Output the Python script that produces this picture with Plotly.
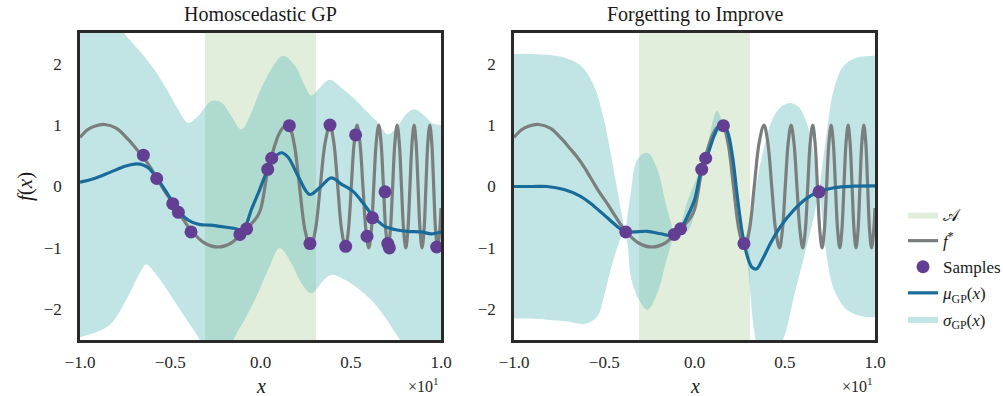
import plotly.graph_objects as go

# ---------------- data (x in units of 10^1) ----------------
region_x = [-0.307, 0.307, 0.307, -0.307, -0.307]
region_y = [-3.0, -3.0, 3.0, 3.0, -3.0]

fstar_x = [-1.0, -0.96, -0.92, -0.863, -0.80, -0.734, -0.69, -0.65, -0.61, -0.573, -0.53, -0.485,
           -0.44, -0.383, -0.31, -0.235, -0.162, -0.112, -0.06, -0.02, 0.0, 0.04, 0.07, 0.10, 0.128,
           0.155, 0.1855, 0.216, 0.2465, 0.277, 0.304, 0.331, 0.358, 0.385, 0.4065, 0.428, 0.4495,
           0.471, 0.487, 0.503, 0.519, 0.535, 0.551, 0.5675, 0.584, 0.600, 0.614, 0.6275, 0.641,
           0.655, 0.668, 0.681, 0.694, 0.707, 0.7195, 0.732, 0.7445, 0.757, 0.769, 0.781, 0.793,
           0.805, 0.8165, 0.828, 0.8395, 0.851, 0.862, 0.873, 0.884, 0.895, 0.906, 0.9165, 0.927,
           0.938, 0.949, 0.9595, 0.970, 0.981, 0.992, 1.0]
fstar_y = [0.80, 0.92, 0.98, 1.01, 0.95, 0.77, 0.62, 0.48, 0.31, 0.13, -0.08, -0.27,
           -0.48, -0.72, -0.92, -0.985, -0.92, -0.79, -0.64, -0.50, -0.38, 0.25, 0.58, 0.84, 0.97,
           1.0, 0.71, 0.0, -0.71, -1.0, -0.71, 0.0, 0.71, 1.0, 0.71, 0.0, -0.71,
           -1.0, -0.71, 0.0, 0.71, 1.0, 0.71, 0.0, -0.71, -1.0, -0.71, 0.0, 0.71,
           1.0, 0.71, 0.0, -0.71, -1.0, -0.71, 0.0, 0.71, 1.0, 0.71, 0.0, -0.71,
           -1.0, -0.71, 0.0, 0.71, 1.0, 0.71, 0.0, -0.71, -1.0, -0.71, 0.0, 0.71,
           1.0, 0.71, 0.0, -0.71, -1.0, -0.75, -0.35]

# Homoscedastic GP (left)
homo_sx = [-0.649, -0.575, -0.486, -0.455, -0.385, -0.114, -0.077, 0.04, 0.062, 0.16, 0.274,
           0.385, 0.472, 0.527, 0.59, 0.62, 0.69, 0.705, 0.714, 0.976]
homo_sy = [0.51, 0.13, -0.28, -0.42, -0.74, -0.78, -0.69, 0.28, 0.46, 0.99, -0.93,
           1.0, -0.975, 0.84, -0.81, -0.51, -0.087, -0.93, -1.0, -0.985]

homo_mu_x = [-1.0, -0.92, -0.834, -0.75, -0.686, -0.65, -0.62, -0.575, -0.53, -0.483, -0.45, -0.418,
             -0.38, -0.335, -0.28, -0.224, -0.15, -0.106, -0.08, -0.051, -0.014, 0.032, 0.069, 0.115,
             0.152, 0.208, 0.272, 0.328, 0.392, 0.448, 0.513, 0.568, 0.623, 0.688, 0.743, 0.817,
             0.891, 0.947, 1.0]
homo_mu_y = [0.07, 0.13, 0.23, 0.33, 0.37, 0.35, 0.30, 0.14, -0.05, -0.27, -0.40, -0.51,
             -0.58, -0.62, -0.63, -0.65, -0.68, -0.70, -0.62, -0.38, -0.12, 0.22, 0.44, 0.55,
             0.48, 0.17, -0.13, -0.02, 0.14, 0.04, -0.08, -0.27, -0.48, -0.65, -0.70, -0.73,
             -0.74, -0.77, -0.74]

homo_up_x = [-1.0, -0.85, -0.79, -0.752, -0.679, -0.605, -0.531, -0.457, -0.402, -0.346, -0.273,
             -0.217, -0.162, -0.106, -0.051, -0.014, 0.06, 0.125, 0.19, 0.245, 0.282, 0.319, 0.383,
             0.448, 0.522, 0.596, 0.651, 0.706, 0.762, 0.808, 0.854, 0.91, 0.947, 1.0]
homo_up_y = [3.0, 2.8, 2.62, 2.48, 2.24, 1.97, 1.64, 1.26, 1.04, 1.15, 1.39,
             1.37, 1.15, 0.93, 1.20, 1.48, 1.91, 2.13, 1.97, 1.64, 1.48, 1.58, 1.74,
             1.61, 1.42, 1.20, 1.04, 0.85, 0.99, 1.18, 1.26, 1.15, 1.04, 1.0]

homo_lo_x = [-1.0, -0.9, -0.827, -0.734, -0.66, -0.633, -0.568, -0.494, -0.42, -0.346, -0.3, -0.2,
             -0.143, -0.088, -0.032, 0.042, 0.106, 0.171, 0.226, 0.282, 0.337, 0.392, 0.467, 0.54,
             0.614, 0.688, 0.762, 0.85, 1.0]
homo_lo_y = [-2.45, -2.36, -2.23, -1.79, -1.36, -1.27, -1.47, -1.79, -2.12, -2.45, -2.7, -2.8,
             -2.45, -2.17, -1.85, -1.36, -1.0, -1.25, -1.57, -1.74, -1.57, -1.44, -1.52, -1.66,
             -1.85, -2.12, -2.45, -2.8, -3.0]

# Forgetting to Improve (right)
fti_sx = [-0.381, -0.112, -0.077, 0.04, 0.062, 0.16, 0.274, 0.69]
fti_sy = [-0.74, -0.78, -0.69, 0.28, 0.46, 0.99, -0.93, -0.087]

fti_mu_x = [-1.0, -0.9, -0.816, -0.723, -0.631, -0.557, -0.483, -0.428, -0.385, -0.335, -0.261,
            -0.187, -0.117, -0.077, -0.04, 0.0, 0.034, 0.071, 0.108, 0.135, 0.158, 0.182, 0.21,
            0.237, 0.265, 0.293, 0.32, 0.345, 0.376, 0.422, 0.477, 0.551, 0.625, 0.686, 0.773,
            0.884, 1.0]
fti_mu_y = [0.0, 0.0, 0.0, -0.05, -0.16, -0.32, -0.51, -0.65, -0.74, -0.74, -0.73,
            -0.77, -0.80, -0.69, -0.49, -0.22, 0.22, 0.50, 0.82, 0.98, 1.0, 0.90, 0.50,
            -0.16, -0.76, -1.14, -1.32, -1.34, -1.19, -0.92, -0.65, -0.38, -0.185, -0.09, -0.02,
            0.005, 0.01]

fti_up_x = [-1.0, -0.9, -0.8, -0.723, -0.631, -0.557, -0.502, -0.465, -0.428, -0.40, -0.385,
            -0.37, -0.353, -0.317, -0.261, -0.206, -0.16, -0.13, -0.117, -0.10, -0.077, -0.04,
            0.0, 0.04, 0.062, 0.09, 0.125, 0.16, 0.182, 0.21, 0.237, 0.265, 0.274, 0.29, 0.30,
            0.33, 0.366, 0.40, 0.44, 0.49, 0.533, 0.575, 0.607, 0.64, 0.662, 0.68, 0.69, 0.70,
            0.735, 0.773, 0.828, 0.902, 1.0]
fti_up_y = [2.16, 2.16, 2.14, 2.10, 1.97, 1.64, 1.09, 0.55, -0.05, -0.50, -0.72,
            -0.45, -0.10, 0.44, 0.55, 0.28, -0.27, -0.60, -0.76, -0.72, -0.62, -0.25,
            0.05, 0.33, 0.50, 0.92, 1.23, 1.02, 0.95, 0.58, -0.05, -0.68, -0.88, -0.75, -0.60,
            -0.20, 0.39, 0.80, 1.15, 1.32, 1.36, 1.30, 1.15, 0.85, 0.50, 0.15, -0.07, 0.15,
            0.93, 1.59, 1.97, 2.10, 2.13]

fti_lo_x = [-1.0, -0.9, -0.816, -0.70, -0.613, -0.539, -0.502, -0.465, -0.419, -0.40, -0.385,
            -0.37, -0.353, -0.307, -0.261, -0.206, -0.16, -0.13, -0.117, -0.10, -0.077, -0.04,
            0.0, 0.04, 0.062, 0.09, 0.125, 0.16, 0.182, 0.21, 0.237, 0.265, 0.274, 0.293, 0.33,
            0.35, 0.42, 0.496, 0.551, 0.607, 0.662, 0.69, 0.70, 0.735, 0.773, 0.846, 0.939, 1.0]
fti_lo_y = [-2.15, -2.15, -2.17, -2.20, -2.24, -2.12, -1.79, -1.36, -0.92, -0.80, -0.76,
            -0.95, -1.47, -1.85, -2.01, -1.74, -1.25, -0.95, -0.82, -0.80, -0.72, -0.72,
            -0.45, 0.22, 0.44, 0.70, 0.85, 0.97, 0.85, 0.42, -0.27, -0.84, -0.95, -1.25, -2.34,
            -2.6, -2.9, -2.45, -1.79, -1.14, -0.49, -0.11, -0.30, -1.19, -1.68, -2.01, -2.12, -2.13]

x_ticks = [-1.0, -0.5, 0.0, 0.5, 1.0]
x_ticktext = ["\u22121.0", "\u22120.5", "0.0", "0.5", "1.0"]
y_ticks = [-2, -1, 0, 1, 2]
y_ticktext = ["\u22122", "\u22121", "0", "1", "2"]
titles = ["Homoscedastic GP", "Forgetting to Improve"]

# ---------------- styles ----------------
FONT = "Liberation Serif, Times New Roman, serif"
GREEN = "#e1eedb"
TEAL = "rgba(100,188,191,0.40)"
GRAY = "#7b7e7e"
BLUE = "#196b99"
PURPLE = "#633f94"
W, H = 1003, 396

fig = go.Figure()

panels = [
    dict(xa="x", ya="y", sx=homo_sx, sy=homo_sy, mux=homo_mu_x, muy=homo_mu_y,
         upx=homo_up_x, upy=homo_up_y, lox=homo_lo_x, loy=homo_lo_y, leg=True),
    dict(xa="x2", ya="y2", sx=fti_sx, sy=fti_sy, mux=fti_mu_x, muy=fti_mu_y,
         upx=fti_up_x, upy=fti_up_y, lox=fti_lo_x, loy=fti_lo_y, leg=False),
]

for p in panels:
    leg = p["leg"]
    fig.add_trace(go.Scatter(x=region_x, y=region_y, xaxis=p["xa"], yaxis=p["ya"], mode="lines",
                             fill="toself", fillcolor=GREEN, line=dict(width=0, color=GREEN),
                             name="\U0001D49C", legendgroup="A", legendrank=1, showlegend=leg,
                             hoverinfo="skip"))
    fig.add_trace(go.Scatter(x=p["lox"], y=p["loy"], xaxis=p["xa"], yaxis=p["ya"], mode="lines",
                             line=dict(width=0, shape="spline", color=TEAL), showlegend=False,
                             legendgroup="sig", hoverinfo="skip"))
    fig.add_trace(go.Scatter(x=p["upx"], y=p["upy"], xaxis=p["xa"], yaxis=p["ya"], mode="lines",
                             fill="tonexty", fillcolor=TEAL, line=dict(width=0, shape="spline", color=TEAL),
                             name="<i>\u03c3</i><sub>GP</sub>(<i>x</i>)", legendgroup="sig",
                             legendrank=5, showlegend=leg, hoverinfo="skip"))
    fig.add_trace(go.Scatter(x=fstar_x, y=fstar_y, xaxis=p["xa"], yaxis=p["ya"], mode="lines",
                             line=dict(width=3.2, shape="spline", color=GRAY),
                             name="<i>f</i><sup>*</sup>", legendgroup="f", legendrank=2,
                             showlegend=leg))
    fig.add_trace(go.Scatter(x=p["mux"], y=p["muy"], xaxis=p["xa"], yaxis=p["ya"], mode="lines",
                             line=dict(width=3.2, shape="spline", color=BLUE),
                             name="<i>\u03bc</i><sub>GP</sub>(<i>x</i>)", legendgroup="mu",
                             legendrank=4, showlegend=leg))
    fig.add_trace(go.Scatter(x=p["sx"], y=p["sy"], xaxis=p["xa"], yaxis=p["ya"], mode="markers",
                             marker=dict(size=13, color=PURPLE), cliponaxis=False,
                             name="Samples", legendgroup="s", legendrank=3, showlegend=leg))

xdoms = [[80 / W, 441 / W], [514 / W, 875 / W]]
ydom = [1 - 340 / H, 1 - 33 / H]
axcommon = dict(showgrid=False, zeroline=False, showline=True, mirror=True, linecolor="#2a2a2a",
                linewidth=2.5, ticks="", tickfont=dict(family=FONT, size=17, color="#262626"),
                automargin=False)
fig.update_layout(
    xaxis=dict(domain=xdoms[0], range=[-1, 1], tickvals=x_ticks, ticktext=x_ticktext, anchor="y",
               ticklabelstandoff=5, **axcommon),
    yaxis=dict(domain=ydom, range=[-2.5, 2.5], tickvals=y_ticks, ticktext=y_ticktext, anchor="x",
               ticklabelstandoff=12, **axcommon),
    xaxis2=dict(domain=xdoms[1], range=[-1, 1], tickvals=x_ticks, ticktext=x_ticktext, anchor="y2",
                ticklabelstandoff=5, **axcommon),
    yaxis2=dict(domain=ydom, range=[-2.5, 2.5], tickvals=y_ticks, ticktext=y_ticktext, anchor="x2",
                ticklabelstandoff=12, **axcommon),
)

ann = []
for i, dom in enumerate(xdoms):
    cx = (dom[0] + dom[1]) / 2
    ann.append(dict(x=cx, y=1 - 14 / H, xref="paper", yref="paper", text=titles[i], showarrow=False,
                    font=dict(family=FONT, size=20, color="#1a1a1a"), xanchor="center", yanchor="middle"))
    ann.append(dict(x=cx, y=1 - 386 / H, xref="paper", yref="paper", text="<i>x</i>", showarrow=False,
                    font=dict(family=FONT, size=20, color="#1a1a1a"), xanchor="center", yanchor="middle"))
    ann.append(dict(x=dom[1], y=1 - 385 / H, xref="paper", yref="paper", text="\u00d710<sup>1</sup>",
                    showarrow=False, font=dict(family=FONT, size=16, color="#262626"),
                    xanchor="right", yanchor="middle"))
ann.append(dict(x=25 / W, y=1 - 187 / H, xref="paper", yref="paper", text="<i>f</i>(<i>x</i>)",
                showarrow=False, textangle=-90, font=dict(family=FONT, size=21, color="#1a1a1a"),
                xanchor="center", yanchor="middle"))

fig.update_layout(
    template="none",
    width=W, height=H, margin=dict(l=0, r=0, t=0, b=0, autoexpand=False),
    paper_bgcolor="white", plot_bgcolor="white",
    annotations=ann,
    showlegend=True,
    legend=dict(x=903 / W, y=1 - 267 / H, xanchor="left", yanchor="middle",
                font=dict(family=FONT, size=17, color="#1a1a1a"), bgcolor="rgba(0,0,0,0)",
                borderwidth=0, tracegroupgap=1, itemwidth=30),
)

fig.write_html("out.html")
